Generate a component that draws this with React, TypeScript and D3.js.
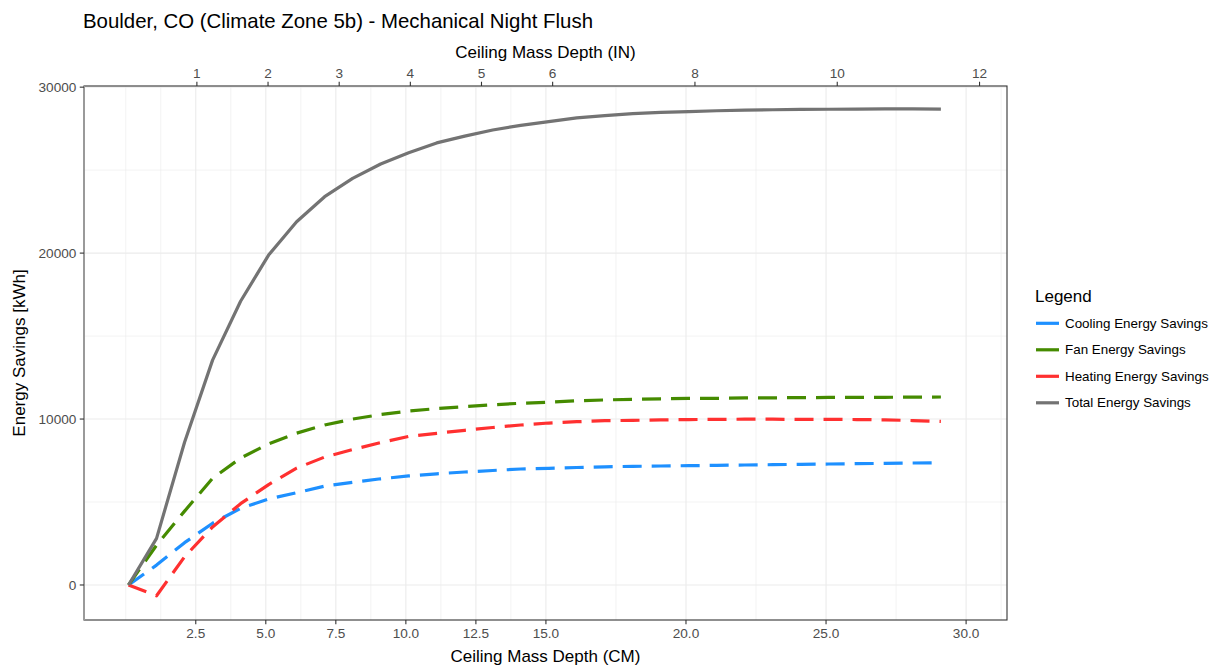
import React from 'react';
import * as d3 from 'd3';

// Ceiling mass depth (cm) of each simulated case
const X_CM = [0.1, 1.1, 2.1, 3.1, 4.1, 5.1, 6.1, 7.1, 8.1, 9.1, 10.1, 11.1, 12.1, 13.1, 14.1, 15.1, 16.1, 17.1, 18.1, 19.1, 20.1, 21.1, 22.1, 23.1, 24.1, 25.1, 26.1, 27.1, 28.1, 29.1];

const COOLING = [0, 1200, 2550, 3720, 4620, 5180, 5560, 5960, 6190, 6400, 6570, 6700, 6810, 6900, 6990, 7030, 7080, 7120, 7150, 7170, 7190, 7210, 7230, 7250, 7270, 7290, 7310, 7330, 7350, 7370];
const FAN = [0, 2400, 4450, 6430, 7650, 8500, 9150, 9640, 10000, 10270, 10480, 10630, 10750, 10860, 10950, 11010, 11100, 11150, 11190, 11220, 11240, 11250, 11270, 11280, 11290, 11300, 11300, 11310, 11320, 11330];
const HEATING = [0, -650, 1700, 3500, 4900, 6050, 7040, 7710, 8160, 8580, 8950, 9140, 9320, 9490, 9640, 9760, 9840, 9900, 9920, 9950, 9970, 9980, 9990, 9990, 9980, 9980, 9970, 9950, 9910, 9860];
const TOTAL = [0, 2810, 8600, 13550, 17100, 19880, 21890, 23400, 24500, 25370, 26050, 26640, 27050, 27420, 27700, 27920, 28150, 28290, 28400, 28480, 28530, 28580, 28620, 28640, 28660, 28670, 28680, 28690, 28690, 28680];

const SERIES_NAMES = ['Cooling Energy Savings', 'Fan Energy Savings', 'Heating Energy Savings', 'Total Energy Savings'];
const SERIES_VALUES = [COOLING, FAN, HEATING, TOTAL];
const SERIES_COLORS = ['#1E90FF', '#458B00', '#FF3030', '#737373'];
const SERIES_DASHED = [true, true, true, false];

const X_BREAKS_CM = [2.5, 5, 7.5, 10, 12.5, 15, 20, 25, 30];
const X_LABELS_CM = ['2.5', '5.0', '7.5', '10.0', '12.5', '15.0', '20.0', '25.0', '30.0'];
const X_BREAKS_IN = [1, 2, 3, 4, 5, 6, 8, 10, 12];
const Y_BREAKS = [0, 10000, 20000, 30000];

const FONT = '"Liberation Sans", Arial, Helvetica, sans-serif';

function minorBreaks(b: number[]): number[] {
  const bd = b[1] - b[0];
  const ext = [b[0] - bd, ...b, b[b.length - 1] + bd];
  const out: number[] = [];
  for (let i = 0; i < ext.length - 1; i++) {
    out.push(ext[i]);
    out.push((ext[i] + ext[i + 1]) / 2);
  }
  out.push(ext[ext.length - 1]);
  return out.filter(v => !b.includes(v));
}

export default function App() {
  const W = 1219, H = 668;
  const L = 84, R = 1007, T = 86, B = 620;
  const x = d3.scaleLinear().domain([-1.49, 31.46]).range([L, R]);
  const y = d3.scaleLinear().domain([-2110, 30070]).range([B, T]);
  const inToX = (v: number) => x(v * 2.54);

  const xMinor = minorBreaks(X_BREAKS_CM).filter(v => v >= x.domain()[0] && v <= x.domain()[1]);
  const yMinor = minorBreaks(Y_BREAKS).filter(v => v >= y.domain()[0] && v <= y.domain()[1]);

  const line = d3.line<number>()
    .x((_, i) => x(X_CM[i]))
    .y(d => y(d));

  const tickLen = 4.25;
  const tickCol = '#333333';
  const labCol = '#4D4D4D';
  const tickFs = 13.6;

  return (
    <svg width={W} height={H} style={{ position: 'absolute', left: 0, top: 0, background: '#fff' }} fontFamily={FONT}>
      <rect x={0} y={0} width={W} height={H} fill="#fff" />
      <text x={83} y={28} fontSize={20.4} fill="#000">Boulder, CO (Climate Zone 5b) - Mechanical Night Flush</text>

      {/* grid */}
      <g>
        {xMinor.map((v, i) => (
          <line key={'xm' + i} x1={x(v)} x2={x(v)} y1={T} y2={B} stroke="#EBEBEB" strokeWidth={0.6} />
        ))}
        {yMinor.map((v, i) => (
          <line key={'ym' + i} x1={L} x2={R} y1={y(v)} y2={y(v)} stroke="#EBEBEB" strokeWidth={0.6} />
        ))}
        {X_BREAKS_CM.map((v, i) => (
          <line key={'xM' + i} x1={x(v)} x2={x(v)} y1={T} y2={B} stroke="#EBEBEB" strokeWidth={1.1} />
        ))}
        {Y_BREAKS.map((v, i) => (
          <line key={'yM' + i} x1={L} x2={R} y1={y(v)} y2={y(v)} stroke="#EBEBEB" strokeWidth={1.1} />
        ))}
      </g>

      {/* series */}
      <g fill="none">
        {SERIES_VALUES.map((vals, i) => (
          <path key={SERIES_NAMES[i]} d={line(vals) || ''} stroke={SERIES_COLORS[i]} strokeWidth={3.2}
            strokeDasharray={SERIES_DASHED[i] ? '19 10' : undefined} strokeLinejoin="round" strokeLinecap="butt" />
        ))}
      </g>

      {/* panel border */}
      <rect x={L} y={T} width={R - L} height={B - T} fill="none" stroke={tickCol} strokeWidth={1.1} />
      <line x1={L} x2={L} y1={T} y2={B} stroke="#9a9a9a" strokeWidth={2} />

      {/* y axis */}
      {Y_BREAKS.map((v, i) => (
        <g key={'yt' + i}>
          <line x1={L - tickLen} x2={L} y1={y(v)} y2={y(v)} stroke={tickCol} strokeWidth={1.1} />
          <text x={L - tickLen - 3.4} y={y(v)} dy="0.35em" textAnchor="end" fontSize={tickFs} fill={labCol}>{v}</text>
        </g>
      ))}
      <text transform={`translate(25,${(T + B) / 2}) rotate(-90)`} textAnchor="middle" fontSize={17} fill="#000">Energy Savings [kWh]</text>

      {/* bottom axis */}
      {X_BREAKS_CM.map((v, i) => (
        <g key={'xb' + i}>
          <line x1={x(v)} x2={x(v)} y1={B} y2={B + tickLen} stroke={tickCol} strokeWidth={1.1} />
          <text x={x(v)} y={B + tickLen + 3.4} dy="0.76em" textAnchor="middle" fontSize={tickFs} fill={labCol}>{X_LABELS_CM[i]}</text>
        </g>
      ))}
      <text x={(L + R) / 2} y={662} textAnchor="middle" fontSize={17} fill="#000">Ceiling Mass Depth (CM)</text>

      {/* top axis */}
      {X_BREAKS_IN.map((v, i) => (
        <g key={'xt' + i}>
          <line x1={inToX(v)} x2={inToX(v)} y1={T} y2={T - tickLen} stroke={tickCol} strokeWidth={1.1} />
          <text x={inToX(v)} y={T - tickLen - 3.4} dy="-0.05em" textAnchor="middle" fontSize={tickFs} fill={labCol}>{v}</text>
        </g>
      ))}
      <text x={(L + R) / 2} y={58} textAnchor="middle" fontSize={17} fill="#000">Ceiling Mass Depth (IN)</text>

      {/* legend */}
      <text x={1035} y={302} fontSize={17} fill="#000">Legend</text>
      {SERIES_NAMES.map((name, i) => {
        const ly = 323.3 + i * 26.5;
        return (
          <g key={'lg' + i}>
            <line x1={1036} x2={1059} y1={ly} y2={ly} stroke={SERIES_COLORS[i]} strokeWidth={3.2} />
            <text x={1065} y={ly} dy="0.35em" fontSize={13.4} fill="#000">{name}</text>
          </g>
        );
      })}
    </svg>
  );
}
